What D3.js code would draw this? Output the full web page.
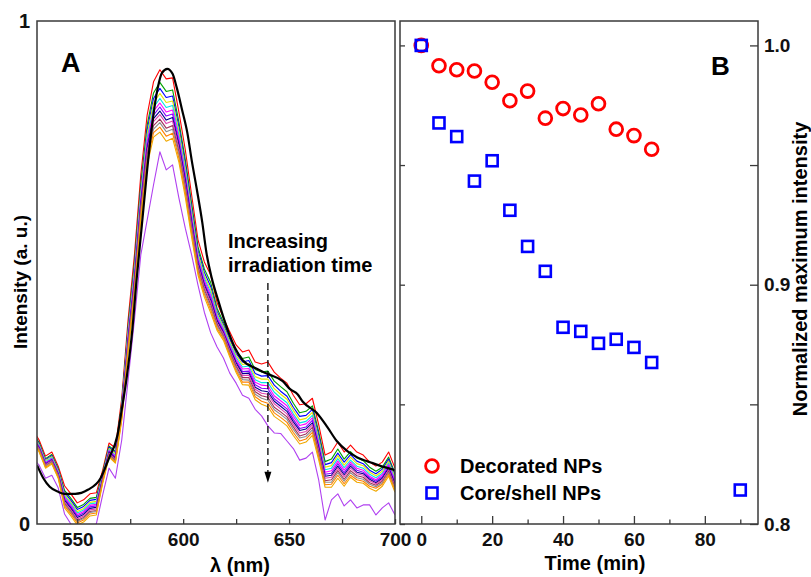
<!DOCTYPE html>
<html>
<head>
<meta charset="utf-8">
<script src="https://cdn.jsdelivr.net/npm/d3@7"></script>
<style>
  body { margin: 0; background: #fff; }
  svg { display: block; font-family: "Liberation Sans", Arial, sans-serif; font-weight: bold; }
</style>
</head>
<body>
<svg id="chart" width="811" height="577"></svg>
<script>
// ---- panel A: emission spectra, intensity in thousandths (0..1000) ----
const wavelength = [529,532,535,538,541,544,547,550,553,556,559,562,565,568,571,574,577,580,583,586,589,592,595,598,601,604,607,610,613,616,619,622,625,628,631,634,637,640,643,646,649,652,655,658,661,664,667,670,673,676,679,682,685,688,691,694,697,700];

const specRed     = [187,167,135,143,115,76,60,42,48,60,62,107,161,151,250,406,535,694,813,879,903,885,887,819,744,654,565,521,495,440,410,382,356,342,346,322,318,322,302,290,280,256,237,239,250,197,137,143,163,143,157,143,137,123,115,123,143,111];
const specGreen   = [182,162,130,138,110,67,51,33,39,51,53,102,155,145,241,393,519,676,793,857,878,860,863,799,725,637,551,507,480,429,401,372,345,329,332,307,302,304,284,273,263,240,221,224,235,183,124,129,149,129,144,131,126,113,105,113,133,101];
const specBlue    = [180,160,128,136,108,63,47,29,35,47,49,99,153,142,237,387,511,667,783,846,866,848,851,789,716,629,544,500,472,423,396,367,339,322,325,299,294,295,276,264,254,232,214,216,228,176,118,122,141,123,138,125,120,107,100,109,129,97];
const specYellow  = [178,158,126,134,106,59,43,25,31,43,45,97,150,140,233,382,505,660,775,837,856,838,841,781,708,622,538,494,466,419,393,363,335,317,319,293,288,288,269,258,248,226,207,210,222,170,113,116,136,117,133,120,116,103,96,105,125,93];
const specCyan    = [176,156,124,132,104,56,40,22,28,40,42,95,148,137,230,377,498,653,767,828,846,828,832,773,701,615,533,489,460,415,389,359,331,312,314,287,281,281,262,251,241,219,201,204,216,165,108,111,130,112,127,115,111,99,92,101,121,89];
const specMagenta = [174,154,122,130,102,53,37,19,25,37,39,93,146,135,227,372,493,646,760,821,837,819,823,766,694,609,528,484,455,411,386,355,327,308,309,282,276,275,255,245,235,214,196,199,211,160,103,106,125,107,123,111,107,95,88,98,118,86];
const specPurple  = [173,153,121,129,101,50,34,16,22,34,36,91,144,133,224,368,487,640,753,813,829,811,815,759,688,604,523,479,450,407,383,352,323,303,304,277,270,269,249,239,229,208,190,193,206,155,99,101,120,102,119,107,103,92,85,94,114,82];
const specNavy    = [171,151,119,127,99,47,31,13,19,31,33,90,143,131,221,364,482,635,747,806,821,803,808,753,682,599,519,475,445,404,380,349,320,299,300,272,265,263,244,234,224,203,186,189,201,151,95,97,115,98,115,103,100,89,82,91,111,79];
const specPink    = [170,150,118,126,98,44,28,10,16,28,30,88,141,129,218,360,477,629,741,800,814,796,801,747,676,594,515,471,441,400,378,346,316,295,296,268,260,258,239,229,219,198,181,184,197,147,91,93,111,94,111,100,97,86,80,88,108,76];
const specWine    = [168,148,116,124,96,41,25,7,13,25,27,86,139,127,215,355,472,623,734,792,805,787,792,740,670,588,510,466,436,397,374,342,313,291,291,263,255,252,232,223,213,193,175,179,192,142,86,88,106,89,106,96,93,82,77,85,105,73];
const specGray    = [167,147,115,123,95,39,23,5,11,23,25,85,137,125,213,352,467,617,728,785,798,780,785,734,664,583,505,461,431,393,372,339,309,287,286,258,250,246,227,218,208,188,171,174,187,137,83,83,102,85,102,92,89,79,74,82,102,70];
const specOrange  = [165,145,113,121,93,36,20,2,8,20,22,83,135,123,210,347,461,611,721,778,789,771,777,727,658,577,501,457,426,389,369,336,305,282,282,253,244,240,221,212,202,182,165,169,182,133,78,79,97,80,97,88,85,75,71,79,99,67];
const specGold    = [163,143,111,119,91,32,16,-2,4,16,18,81,133,121,206,342,455,604,713,769,779,761,767,719,650,570,495,451,420,385,365,332,301,277,276,247,238,233,214,205,195,176,159,163,176,127,73,73,91,75,93,83,81,71,65,75,95,63];
const specViolet  = [131,117,91,97,72,20,0,-20,-14,-4,0,58,111,91,167,286,406,535,604,674,740,704,714,648,588,535,475,421,380,352,330,300,280,256,250,228,215,195,181,180,165,150,127,131,143,87,8,48,60,36,48,32,38,38,18,32,42,18];

// smooth (black) reference curve
const fitWl = [531,534,537,541,544,549,555,561,565,569,571,573.5,576,578,580.5,583,585.5,588,590,592.5,595,597,599.5,602,604,606.5,609,611,613.5,616.5,621,624.5,628,634,640,647,650.5,654,656.5,663,668,672.5,677.5,682,689.5,695,700];
const fitValues = [117,91,74,64,60,60,68,91,131,177,227,296,386,485,594,704,799,867,897,905,895,867,823,777,724,664,600,539,489,445,386,350,326,310,298,284,268,258,243,221,193,165,145,133,121,113,107];

const ticksA = [550, 600, 650, 700];
const minorTicksA = [575, 625, 675];

// ---- panel B: normalized maximum intensity vs time ----
const timeDecorated = [0,5,10,15,20,25,30,35,40,45,50,55,60,65];
const valDecorated  = [1.0,0.9915,0.9898,0.9893,0.9846,0.9769,0.9809,0.9696,0.9736,0.9709,0.9756,0.9650,0.9623,0.9566];
const timeCoreShell = [0,5,10,15,20,25,30,35,40,45,50,55,60,65,90];
const valCoreShell  = [1.0,0.9676,0.9619,0.9433,0.9518,0.9311,0.9160,0.9056,0.8822,0.8805,0.8755,0.8772,0.8738,0.8675,0.8142];

const ticksBx = [0, 20, 40, 60, 80];
const minorTicksBx = [10, 30, 50, 70, 90];
const ticksBy = [0.8, 0.9, 1.0];
const minorTicksBy = [0.85, 0.95];

const svg = d3.select("#chart");
const A = {left: 37, right: 395, top: 21, bottom: 524};
const B = {left: 400, right: 758, top: 21, bottom: 524};
const frameColor = "#3a3a3a";

const xA = d3.scaleLinear().domain([531, 700]).range([A.left, A.right]);
const yA = d3.scaleLinear().domain([0, 1000]).range([A.bottom, A.top]);
const xB = d3.scaleLinear().domain([-6, 95]).range([B.left, B.right]);
const yB = d3.scaleLinear().domain([0.8, 1.0102]).range([B.bottom, B.top]);

function styleAxis(g, size) {
    g.select(".domain").remove();
    g.selectAll(".tick line").attr("stroke", frameColor).attr("stroke-width", 1.3);
    g.selectAll(".tick text")
        .attr("fill", "#111")
        .style("font-size", size + "px")
        .style("font-family", "'Liberation Sans', Arial, sans-serif")
        .style("font-weight", "bold");
}

// ---------- panel A ----------
svg.append("clipPath").attr("id", "clipA")
    .append("rect")
    .attr("x", A.left).attr("y", A.top)
    .attr("width", A.right - A.left).attr("height", A.bottom - A.top);

const spectra = [
    {color: "#ff0000", values: specRed},
    {color: "#00a000", values: specGreen},
    {color: "#0000ff", values: specBlue},
    {color: "#e6e600", values: specYellow},
    {color: "#00e5e5", values: specCyan},
    {color: "#ff00ff", values: specMagenta},
    {color: "#8000ff", values: specPurple},
    {color: "#00008c", values: specNavy},
    {color: "#e040b0", values: specPink},
    {color: "#a0305a", values: specWine},
    {color: "#8c8c8c", values: specGray},
    {color: "#ff8000", values: specOrange},
    {color: "#f0a800", values: specGold},
    {color: "#b040f0", values: specViolet}
];

const specLine = d3.line()
    .x((d, i) => xA(wavelength[i]))
    .y(d => yA(d));

const plotA = svg.append("g").attr("clip-path", "url(#clipA)");
plotA.selectAll("path.spec")
    .data(spectra)
    .enter().append("path")
    .attr("class", "spec")
    .attr("fill", "none")
    .attr("stroke", d => d.color)
    .attr("stroke-width", 1.1)
    .attr("stroke-linejoin", "round")
    .attr("d", d => specLine(d.values));

const fitLine = d3.line()
    .curve(d3.curveMonotoneX)
    .x((d, i) => xA(fitWl[i]))
    .y(d => yA(d));

plotA.append("path")
    .attr("fill", "none")
    .attr("stroke", "#000")
    .attr("stroke-width", 2.2)
    .attr("d", fitLine(fitValues));

// arrow "increasing irradiation time"
const arrowWl = 640, arrowFrom = 479, arrowTo = 82;
svg.append("line")
    .attr("x1", xA(arrowWl)).attr("x2", xA(arrowWl))
    .attr("y1", yA(arrowFrom)).attr("y2", yA(arrowTo) - 9)
    .attr("stroke", "#000").attr("stroke-width", 1.3)
    .attr("stroke-dasharray", "7,4");
svg.append("path")
    .attr("d", `M${xA(arrowWl) - 3.5},${yA(arrowTo) - 11} L${xA(arrowWl) + 3.5},${yA(arrowTo) - 11} L${xA(arrowWl)},${yA(arrowTo)} Z`)
    .attr("fill", "#000");

svg.append("text").attr("x", 228).attr("y", 248)
    .style("font-size", "20px").text("Increasing");
svg.append("text").attr("x", 228).attr("y", 272)
    .style("font-size", "20px").text("irradiation time");

svg.append("rect")
    .attr("x", A.left).attr("y", A.top)
    .attr("width", A.right - A.left).attr("height", A.bottom - A.top)
    .attr("fill", "none").attr("stroke", frameColor).attr("stroke-width", 1.5);

svg.append("g")
    .attr("transform", `translate(0,${A.bottom})`)
    .call(d3.axisBottom(xA).tickValues(ticksA).tickSize(-5).tickPadding(9))
    .call(g => styleAxis(g, 19));
svg.append("g")
    .attr("transform", `translate(0,${A.bottom})`)
    .call(d3.axisBottom(xA).tickValues(minorTicksA).tickSize(-5).tickFormat(""))
    .call(g => styleAxis(g, 19));
svg.append("g")
    .attr("transform", `translate(${A.left},0)`)
    .call(d3.axisLeft(yA).tickValues([0, 1000]).tickFormat(d => d / 1000).tickSize(0).tickPadding(7))
    .call(g => styleAxis(g, 20));

svg.append("text")
    .attr("transform", "translate(27,282) rotate(-90)")
    .attr("text-anchor", "middle")
    .style("font-size", "19px")
    .text("Intensity (a. u.)");
svg.append("text")
    .attr("x", 240).attr("y", 572)
    .attr("text-anchor", "middle")
    .style("font-size", "20px")
    .text("λ (nm)");
svg.append("text").attr("x", 61).attr("y", 72)
    .style("font-size", "27px").text("A");

// ---------- panel B ----------
svg.append("rect")
    .attr("x", B.left).attr("y", B.top)
    .attr("width", B.right - B.left).attr("height", B.bottom - B.top)
    .attr("fill", "none").attr("stroke", frameColor).attr("stroke-width", 1.5);

svg.append("g")
    .attr("transform", `translate(0,${B.bottom})`)
    .call(d3.axisBottom(xB).tickValues(ticksBx).tickSize(-8).tickPadding(9))
    .call(g => styleAxis(g, 19));
svg.append("g")
    .attr("transform", `translate(0,${B.bottom})`)
    .call(d3.axisBottom(xB).tickValues(minorTicksBx).tickSize(-4.5).tickFormat(""))
    .call(g => styleAxis(g, 19));
svg.append("g")
    .attr("transform", `translate(${B.right},0)`)
    .call(d3.axisRight(yB).tickValues(ticksBy).tickSize(-8).tickPadding(6).tickFormat(d3.format(".1f")))
    .call(g => styleAxis(g, 19));
svg.append("g")
    .attr("transform", `translate(${B.right},0)`)
    .call(d3.axisRight(yB).tickValues(minorTicksBy).tickSize(-8).tickFormat(""))
    .call(g => styleAxis(g, 19));
svg.append("g")
    .attr("transform", `translate(${B.left},0)`)
    .call(d3.axisRight(yB).tickValues(ticksBy.concat(minorTicksBy)).tickSize(5).tickFormat(""))
    .call(g => styleAxis(g, 19));

svg.append("g").selectAll("circle")
    .data(timeDecorated)
    .enter().append("circle")
    .attr("cx", d => xB(d))
    .attr("cy", (d, i) => yB(valDecorated[i]))
    .attr("r", 6.4)
    .attr("fill", "none")
    .attr("stroke", "#ff0000")
    .attr("stroke-width", 2.8);

const sq = 11;
svg.append("g").selectAll("rect")
    .data(timeCoreShell)
    .enter().append("rect")
    .attr("x", d => xB(d) - sq / 2)
    .attr("y", (d, i) => yB(valCoreShell[i]) - sq / 2)
    .attr("width", sq).attr("height", sq)
    .attr("fill", "none")
    .attr("stroke", "#0000ff")
    .attr("stroke-width", 2.6);

// legend
const legend = svg.append("g");
legend.append("circle").attr("cx", 432).attr("cy", 466).attr("r", 6.4)
    .attr("fill", "none").attr("stroke", "#ff0000").attr("stroke-width", 2.8);
legend.append("rect").attr("x", 432 - sq / 2).attr("y", 493 - sq / 2).attr("width", sq).attr("height", sq)
    .attr("fill", "none").attr("stroke", "#0000ff").attr("stroke-width", 2.6);
legend.append("text").attr("x", 460).attr("y", 473).style("font-size", "20px").text("Decorated NPs");
legend.append("text").attr("x", 460).attr("y", 500).style("font-size", "20px").text("Core/shell NPs");

svg.append("text")
    .attr("x", 595).attr("y", 570)
    .attr("text-anchor", "middle")
    .style("font-size", "20px")
    .text("Time (min)");
svg.append("text")
    .attr("transform", "translate(807,269) rotate(-90)")
    .attr("text-anchor", "middle")
    .style("font-size", "20px")
    .text("Normalized maximum intensity");
svg.append("text").attr("x", 711).attr("y", 75)
    .style("font-size", "26px").text("B");
</script>
</body>
</html>
